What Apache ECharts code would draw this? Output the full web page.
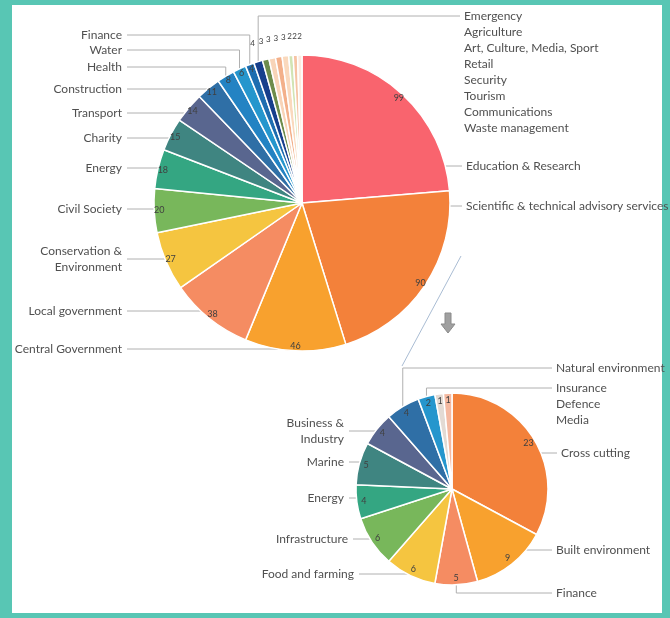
<!DOCTYPE html>
<html><head><meta charset="utf-8">
<script src="https://cdn.jsdelivr.net/npm/echarts@6/dist/echarts.min.js"></script>
<style>
html,body{margin:0;padding:0;width:670px;height:618px;background:#58C6B4;overflow:hidden}
#panel{position:absolute;left:12px;top:5px;width:650px;height:608px;background:#fff}
#chart{position:absolute;left:0;top:0;width:670px;height:618px}
</style></head><body>
<div id="panel"></div><div id="chart"></div>
<script>
// ---------- data ----------
const sectorNames = ['Education & Research','Scientific & technical advisory services','Central Government','Local government','Conservation & Environment','Civil Society','Energy','Charity','Transport','Construction','Health','Water','Finance','Emergency','Agriculture','Art, Culture, Media, Sport','Retail','Security','Tourism','Communications','Waste management'];
const sectorValues = [99,90,46,38,27,20,18,15,14,11,8,6,4,4,3,3,3,3,2,2,2];
const sectorLabels = ['Education & Research','Scientific & technical advisory services','Central Government','Local government','Conservation &\nEnvironment','Civil Society','Energy','Charity','Transport','Construction','Health','Water','Finance','Emergency','Agriculture','Art, Culture, Media, Sport','Retail','Security','Tourism','Communications','Waste management'];

const subNames = ['Cross cutting','Built environment','Finance','Food and farming','Infrastructure','Energy','Marine','Business & Industry','Natural environment','Insurance','Defence','Media'];
const subValues = [23,9,5,6,6,4,5,4,4,2,1,1];
const subLabels = ['Cross cutting','Built environment','Finance','Food and farming','Infrastructure','Energy','Marine','Business &\nIndustry','Natural environment','Insurance','Defence','Media'];

// ---------- styles ----------
const sectorColors = ['#F9646E','#F3813A','#F8A12E','#F58C62','#F5C540','#78B75B','#34A682','#3F8581','#59668F','#2F6FA6','#2383C3','#2596CD','#1E6DB0','#173F8C','#6D8C4B','#F8D4B8','#F3B08A','#FAD9BD','#D2E4B4','#F6C4A4','#FCEADF'];
const subColors = ['#F3813A','#F8A12E','#F58C62','#F5C540','#78B75B','#34A682','#3F8581','#59668F','#2F6FA6','#2596CD','#E3DAD3','#F5B9A0'];

// label placement: [side, x, y, showLine]
const bigPos = {
  'Finance':['left',122,35,true],'Water':['left',122,50,true],'Health':['left',122,67,true],
  'Construction':['left',122,89,true],'Transport':['left',122,113,true],'Charity':['left',122,138,true],
  'Energy':['left',122,168,true],'Civil Society':['left',122,209,true],'Conservation & Environment':['left',122,259,true],
  'Local government':['left',122,311,true],'Central Government':['left',122,349,true],
  'Education & Research':['right',466,166,true],'Scientific & technical advisory services':['right',466,206,true],
  'Emergency':['right',464,16,true],'Agriculture':['right',464,32,false],'Art, Culture, Media, Sport':['right',464,48,false],
  'Retail':['right',464,64,false],'Security':['right',464,80,false],'Tourism':['right',464,96,false],
  'Communications':['right',464,112,false],'Waste management':['right',464,128,false]
};
const subPos = {
  'Business & Industry':['left',344,431,true],'Marine':['left',344,462,true],'Energy':['left',344,498,true],
  'Infrastructure':['left',348,539,true],'Food and farming':['left',354,574,true],
  'Natural environment':['right',556,368,true],'Insurance':['right',556,388,true],'Defence':['right',556,404,false],
  'Media':['right',556,420,false],'Cross cutting':['right',561,453,true],'Built environment':['right',556,550,true],
  'Finance':['right',556,593,true]
};

const BIG = {cx:302, cy:203, r:148};
const SUB = {cx:452, cy:489, r:96};

function makeLayout(geo, names, values, pos){
  const total = values.reduce((a,b)=>a+b,0);
  const starts = []; let c = 0;
  values.forEach(v=>{ starts.push(c/total*360); c += v; });
  return function(params){
    const i = params.dataIndex;
    const L = pos[names[i]];
    if (!L) return {};
    const [side, x, y, line] = L;
    const a0 = starts[i], a1 = a0 + values[i]/total*360, am = (a0+a1)/2;
    const rad = am*Math.PI/180;
    const ex = geo.cx + geo.r*Math.sin(rad), ey = geo.cy - geo.r*Math.cos(rad);
    const out = {x:x, y:y, align: side==='left'?'right':'left', verticalAlign:'middle'};
    if (line){
      const endX = side==='left' ? x+5 : x-4;
      let pts = null;
      const dy = y - geo.cy;
      if (Math.abs(dy) < geo.r){
        const dx = Math.sqrt(geo.r*geo.r - dy*dy) * (side==='left' ? -1 : 1);
        let ang = Math.atan2(dx, -dy)*180/Math.PI; if (ang < 0) ang += 360;
        if (ang >= a0 && ang <= a1) pts = [[geo.cx+dx, y],[geo.cx+dx, y],[endX, y]];
      }
      if (!pts) pts = [[ex,ey],[ex,y],[endX,y]];
      out.labelLinePoints = pts;
    }
    return out;
  };
}

function mainData(names, values, labels, colors, pos){
  return names.map((n,i)=>({
    name:n, value:values[i],
    itemStyle:{color:colors[i]},
    label:{formatter:labels[i]},
    labelLine:{show: !!(pos[n] && pos[n][3])}
  }));
}
function plainData(names, values){ return names.map((n,i)=>({name:n, value:values[i]})); }

const labelFont = {fontFamily:'Lato', fontSize:12, color:'#505050', lineHeight:16};
const lineStyle = {color:'#B0B0B0', width:1};

const chart = echarts.init(document.getElementById('chart'), null, {renderer:'canvas'});
chart.setOption({
  backgroundColor:'transparent',
  animation:false,
  textStyle:{fontFamily:'Lato'},
  graphic:[
    {type:'polyline', shape:{points:[[461,256],[402,366]]}, style:{stroke:'#A9BCD3', lineWidth:1, fill:null}, silent:true},
    {type:'polygon', shape:{points:[[445,313],[451,313],[451,324],[455,324],[448,333],[441,324],[445,324]]}, style:{fill:'#A0A0A0', stroke:'#8A8A8A', lineWidth:1}, silent:true}
  ],
  series:[
    {
      type:'pie', center:[BIG.cx,BIG.cy], radius:[0,BIG.r], startAngle:90, clockwise:true,
      avoidLabelOverlap:false, minAngle:0, silent:true, emphasis:{disabled:true},
      itemStyle:{borderColor:'#ffffff', borderWidth:1.5},
      label:{show:true, position:'outside', ...labelFont},
      labelLine:{show:true, lineStyle:lineStyle, length:5, length2:5},
      labelLayout: makeLayout(BIG, sectorNames, sectorValues, bigPos),
      data: mainData(sectorNames, sectorValues, sectorLabels, sectorColors, bigPos)
    },
    {
      type:'pie', center:[BIG.cx,BIG.cy], radius:[BIG.r-16,BIG.r], startAngle:90, clockwise:true,
      avoidLabelOverlap:false, silent:true, emphasis:{disabled:true},
      itemStyle:{color:'transparent', borderWidth:0},
      label:{show:true, position:'inside', fontFamily:'Lato', fontSize:9, color:'#404040',
        formatter:p=> p.dataIndex < 13 ? String(p.value) : ''},
      labelLine:{show:false},
      data: plainData(sectorNames, sectorValues)
    },
    {
      type:'pie', center:[BIG.cx,BIG.cy], radius:[BIG.r+6,BIG.r+26], startAngle:90, clockwise:true,
      avoidLabelOverlap:false, silent:true, emphasis:{disabled:true},
      itemStyle:{color:'transparent', borderWidth:0},
      label:{show:true, position:'inside', fontFamily:'Lato', fontSize:8, color:'#404040',
        formatter:p=> p.dataIndex >= 13 ? String(p.value) : ''},
      labelLine:{show:false},
      data: plainData(sectorNames, sectorValues)
    },
    {
      type:'pie', center:[SUB.cx,SUB.cy], radius:[0,SUB.r], startAngle:90, clockwise:true,
      avoidLabelOverlap:false, minAngle:0, silent:true, emphasis:{disabled:true},
      itemStyle:{borderColor:'#ffffff', borderWidth:1.5},
      label:{show:true, position:'outside', ...labelFont},
      labelLine:{show:true, lineStyle:lineStyle, length:5, length2:5},
      labelLayout: makeLayout(SUB, subNames, subValues, subPos),
      data: mainData(subNames, subValues, subLabels, subColors, subPos)
    },
    {
      type:'pie', center:[SUB.cx,SUB.cy], radius:[SUB.r-18,SUB.r-2], startAngle:90, clockwise:true,
      avoidLabelOverlap:false, silent:true, emphasis:{disabled:true},
      itemStyle:{color:'transparent', borderWidth:0},
      label:{show:true, position:'inside', fontFamily:'Lato', fontSize:9, color:'#404040',
        formatter:p=> String(p.value)},
      labelLine:{show:false},
      data: plainData(subNames, subValues)
    }
  ]
});
</script>
</body></html>
